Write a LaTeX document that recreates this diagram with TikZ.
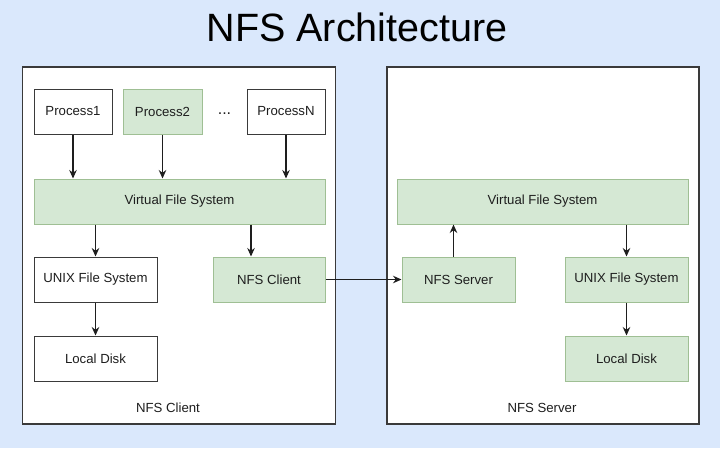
\documentclass[tikz,border=0pt]{standalone}
\usepackage{fontspec}
\setmainfont{Liberation Sans}
\usepackage{tikz}
\usetikzlibrary{arrows.meta, calc}
\definecolor{bgblue}{HTML}{DAE8FC}
\definecolor{boxgreen}{HTML}{D5E8D4}
\definecolor{linegreen}{HTML}{9FBF94}
\definecolor{linegray}{HTML}{3A3A3A}
\definecolor{txtgray}{HTML}{1E1E1E}

\begin{document}
\begin{tikzpicture}[x=1pt,y=-1pt,>={Stealth[length=8.5pt,width=7.5pt]},
  host/.style={draw=linegray,line width=1.5pt,fill=white,inner sep=0pt},
  wbox/.style={draw=linegray,line width=1pt,fill=white,minimum height=45pt,
    inner sep=0pt,font=\fontsize{13.2}{15}\selectfont,text=txtgray},
  gbox/.style={wbox,draw=linegreen,fill=boxgreen},
  lbl/.style={font=\fontsize{13.2}{15}\selectfont,text=txtgray},
  arr/.style={->,line width=1.1pt,draw=txtgray}]
  % background: 720 x 448
  \fill[bgblue](0,0) rectangle (720,448);
  \useasboundingbox(0,0) rectangle (720,448);
  \node[font=\fontsize{39.5}{44}\selectfont,text=black](title) at (357,27){NFS Architecture};
  % host frames
  \node[host,minimum width=313pt,minimum height=357pt](client) at (179,245.5){};
  \node[host,minimum width=312pt,minimum height=357pt](server) at (543,245.5){};
  % client side
  \node[wbox,minimum width=78pt](p1) at (73,111.5){Process1};
  \node[gbox,minimum width=79pt](p2) at (162.5,111.5){Process2};
  \node[lbl,font=\fontsize{16}{16}\selectfont](dots) at (224.5,114){...};
  \node[wbox,minimum width=78pt](pn) at (286,111.5){ProcessN};
  \node[gbox,minimum width=291pt](cvfs) at (179.5,201.5){Virtual File System};
  \node[wbox,minimum width=123pt](cufs) at (95.5,279.5){UNIX File System};
  \node[gbox,minimum width=112pt](cnfs) at (269,279.5){NFS Client};
  \node[wbox,minimum width=123pt](cdisk) at (95.5,358.5){Local Disk};
  \node[lbl](clabel) at (168,408){NFS Client};
  % server side
  \node[gbox,minimum width=291pt](svfs) at (542.5,201.5){Virtual File System};
  \node[gbox,minimum width=113pt](snfs) at (458.5,279.5){NFS Server};
  \node[gbox,minimum width=123pt](sufs) at (626.5,279.5){UNIX File System};
  \node[gbox,minimum width=123pt](sdisk) at (626.5,358.5){Local Disk};
  \node[lbl](slabel) at (542,408){NFS Server};
  % arrows
  \foreach \p in {p1,p2,pn}{
    \draw[arr](\p.south)--(\p.south |- cvfs.north);}
  \draw[arr](cufs.north |- cvfs.south)--(cufs.north);
  \draw[arr]([xshift=-18pt]cnfs.north |- cvfs.south)--([xshift=-18pt]cnfs.north);
  \draw[arr](cufs)--(cdisk);
  \draw[arr](cnfs)--(snfs);
  \draw[arr]([xshift=-5pt]snfs.north)--([xshift=-5pt]snfs.north |- svfs.south);
  \draw[arr](sufs.north |- svfs.south)--(sufs.north);
  \draw[arr](sufs)--(sdisk);
\end{tikzpicture}
\end{document}
